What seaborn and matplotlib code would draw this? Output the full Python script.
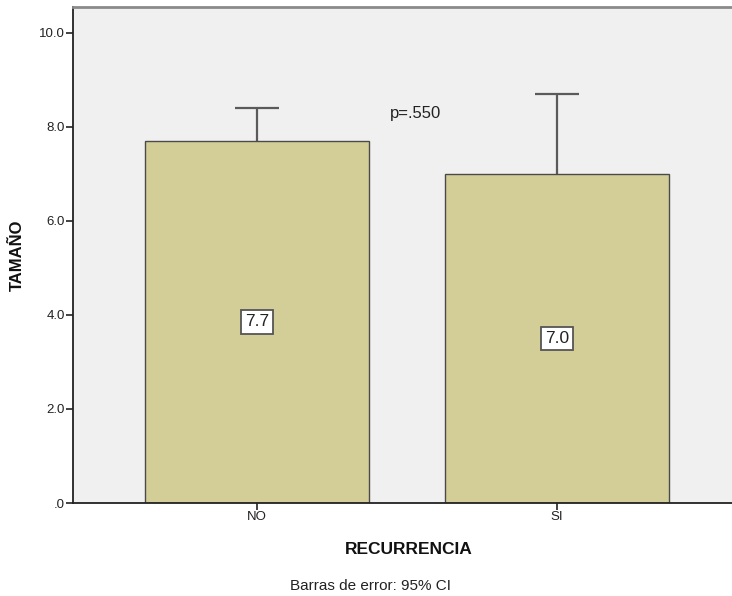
import matplotlib
matplotlib.use("Agg")
import matplotlib.pyplot as plt
import seaborn as sns
import pandas as pd
import numpy as np

categories = ["NO", "SI"]
means = [7.7, 7.0]
ci_upper = [8.4, 8.7]
mean_labels = ["7.7", "7.0"]
yticks = [0, 2, 4, 6, 8, 10]
ytick_labels = [".0", "2.0", "4.0", "6.0", "8.0", "10.0"]
p_text = "p=.550"

sns.set_theme(style="white")
plt.rcParams['font.family'] = ['Liberation Sans', 'DejaVu Sans']

df = pd.DataFrame({"RECURRENCIA": categories, "TAMAÑO": means})

W, H = 732, 596
fig = plt.figure(figsize=(W / 100, H / 100), dpi=100)
ax = fig.add_axes([73/W, 1-503/H, 1-73/W, (503-7)/H])
ax.set_facecolor("#f0f0f0")

sns.barplot(data=df, x="RECURRENCIA", y="TAMAÑO", order=categories,
            color="#d3ce97", saturation=1, width=0.747, errorbar=None,
            edgecolor="#4a4a4a", linewidth=1.0, ax=ax, zorder=2)

x = np.arange(len(categories))
upper = np.array(ci_upper) - np.array(means)
eb = ax.errorbar(x, means, yerr=[np.zeros_like(upper), upper], fmt="none",
                 ecolor="#5a5a5a", elinewidth=1.6, capsize=16, capthick=1.6, zorder=1)
# hide the lower caps (SPSS shows only the upper whisker above the bar)
eb[1][0].set_visible(False)

for xi, m, lab in zip(x, means, mean_labels):
    ax.text(xi, m / 2, lab, ha="center", va="center", fontsize=12.5, color="#222222",
            bbox=dict(boxstyle="square,pad=0.25", facecolor="white",
                      edgecolor="#555555", linewidth=1.3), zorder=4)

ax.text(0.53, 8.28, p_text, ha="center", va="center", fontsize=12, color="#222222")

ax.set_xlim(-0.613, 1.583)
ax.set_ylim(0, 10.55)
ax.set_yticks(yticks)
ax.set_yticklabels(ytick_labels)
ax.tick_params(axis="both", which="both", direction="out", length=5, width=1.2,
               color="#222222", labelsize=9.5, labelcolor="#222222", pad=1,
               left=True, bottom=True)

for s in ["left", "bottom"]:
    ax.spines[s].set_color("#222222")
    ax.spines[s].set_linewidth(1.3)
ax.spines["top"].set_color("#8a8a8a")
ax.spines["top"].set_linewidth(2)
ax.spines["right"].set_visible(False)

ax.set_xlabel("RECURRENCIA", fontsize=12.5, fontweight="bold", color="#111111")
ax.set_ylabel("TAMAÑO", fontsize=12, fontweight="bold", color="#111111")
# place axis titles where they sit in the reference (pixel -> axes coords)
ax.xaxis.set_label_coords((409 - 73) / (W - 73), -(549 - 503) / (503 - 7))
ax.xaxis.label.set_va("center")
ax.yaxis.set_label_coords(-(73 - 17) / (W - 73), (503 - 255) / (503 - 7))
ax.yaxis.label.set_va("center")

fig.text(371/W, 1-586/H, "Barras de error: 95% CI", ha="center", va="center",
         fontsize=11, color="#222222")

fig.savefig("out.png", dpi=100)
